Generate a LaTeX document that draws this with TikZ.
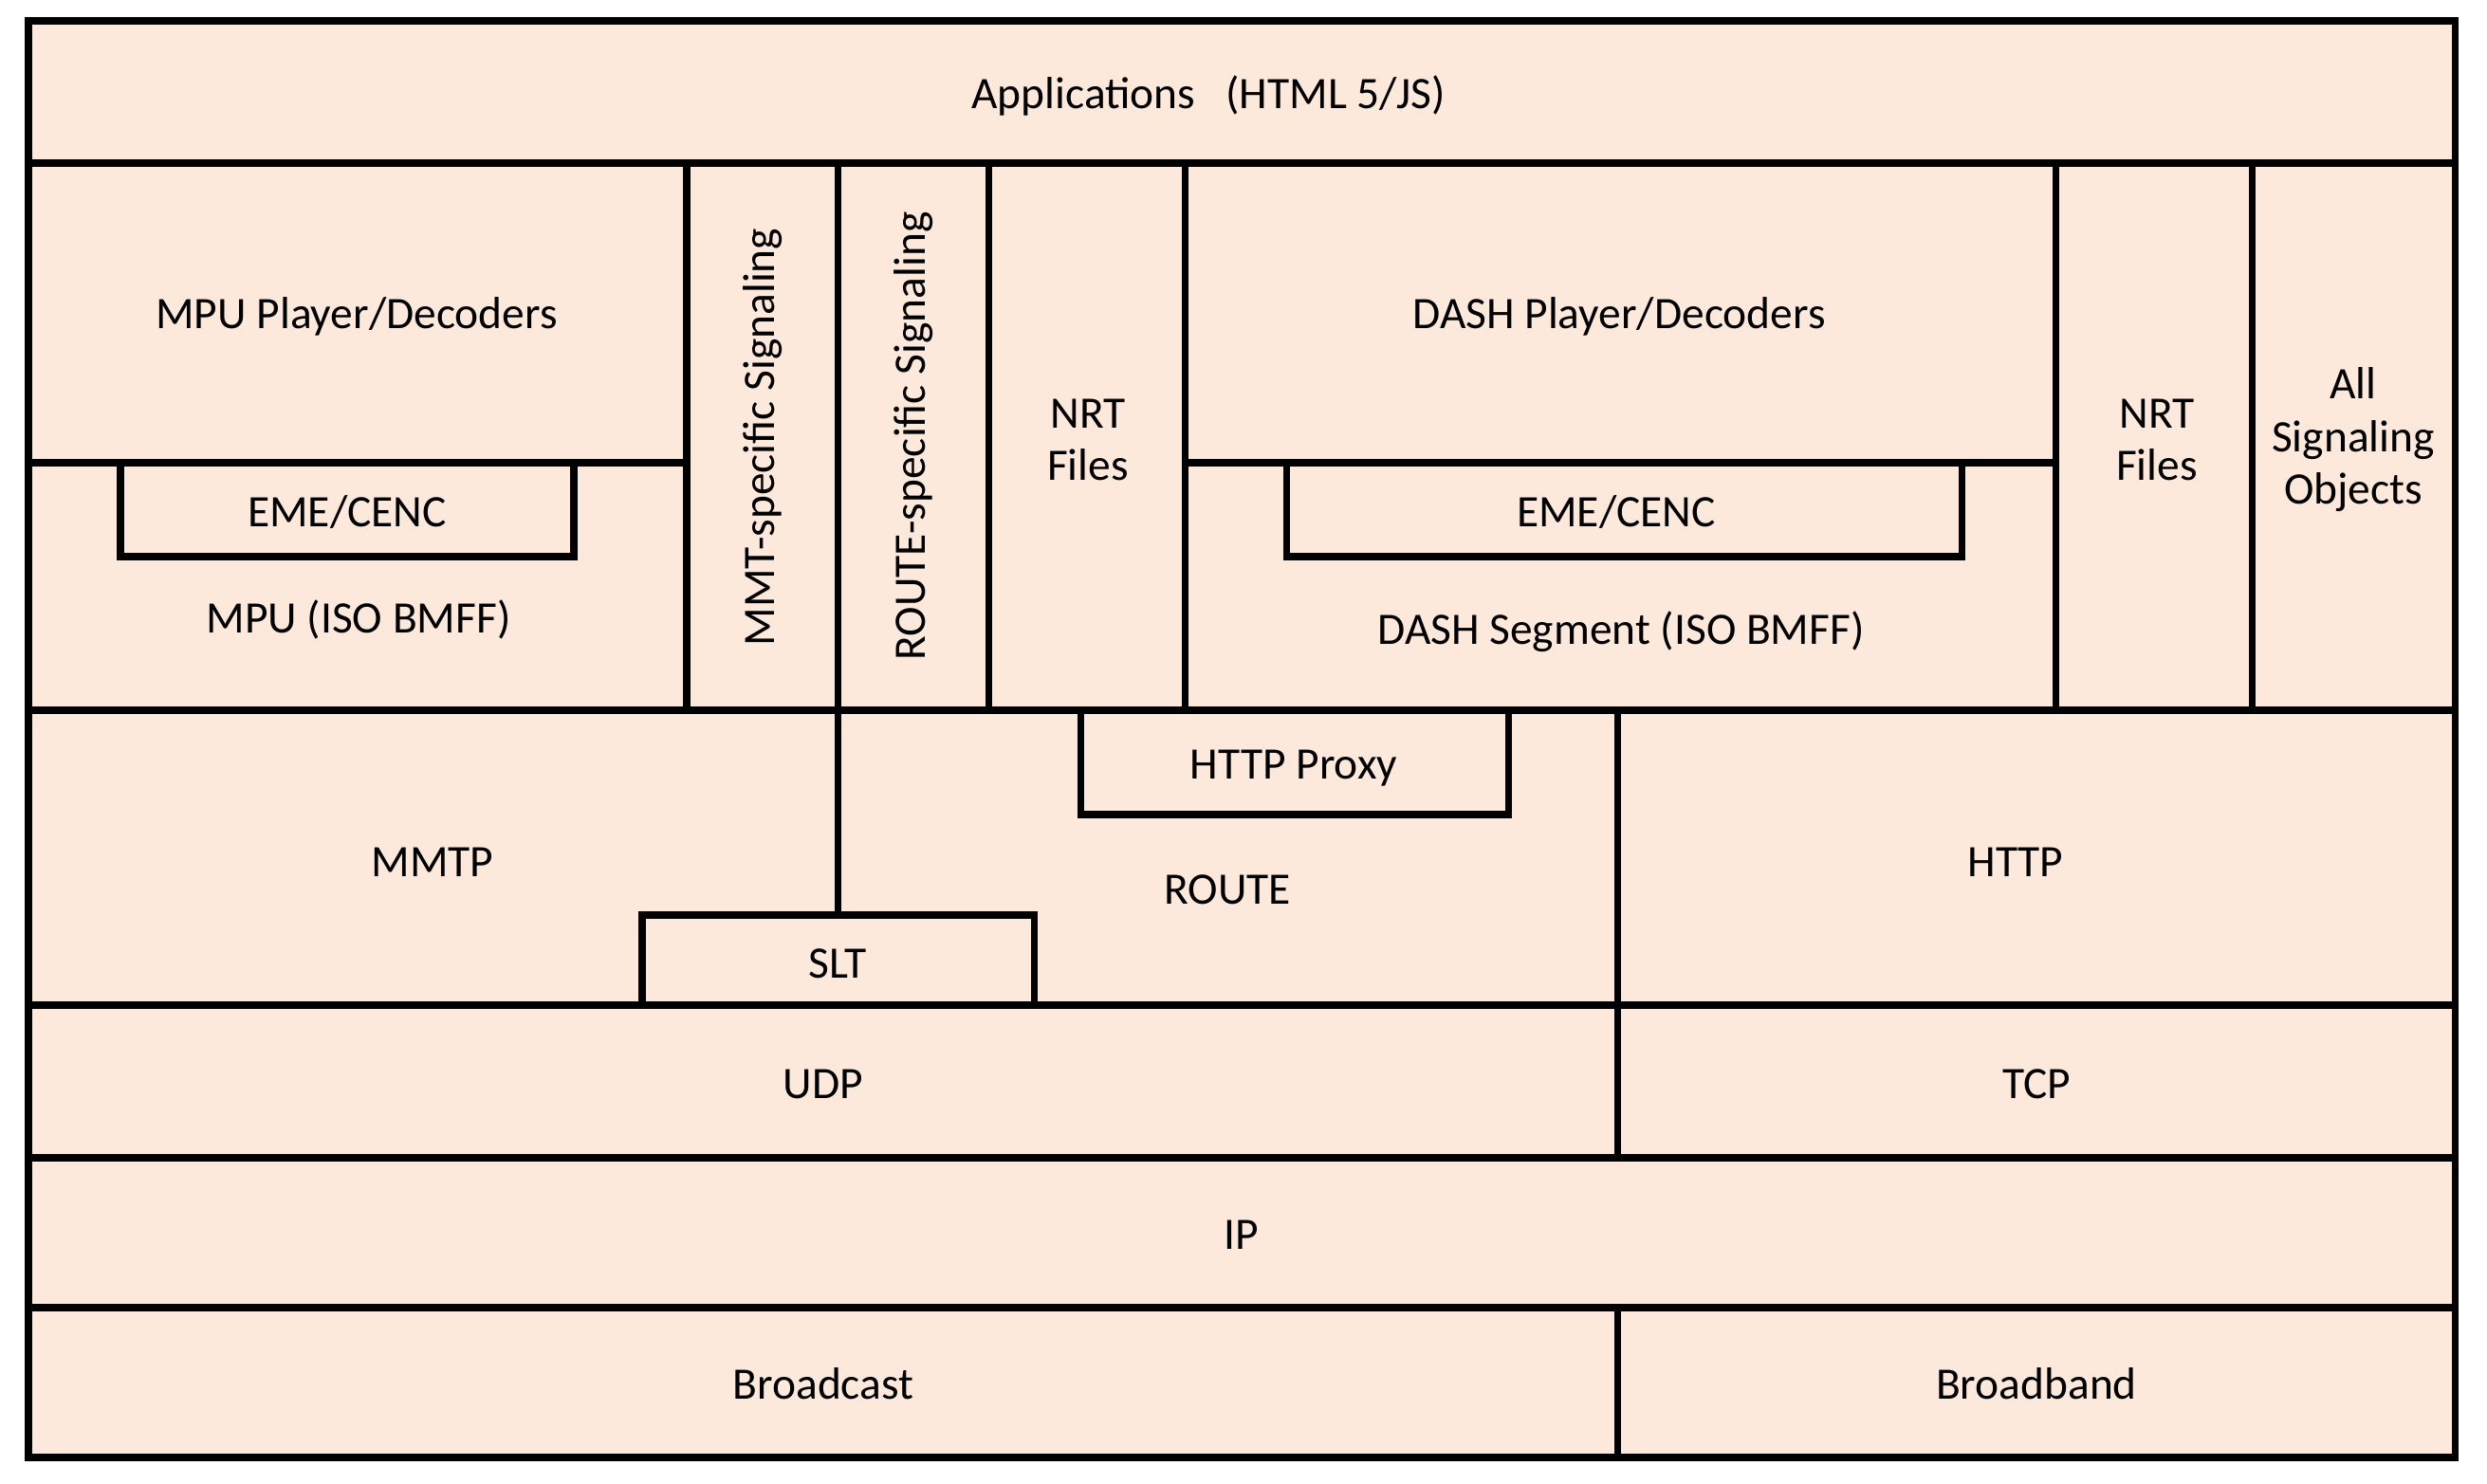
\documentclass[tikz,border=0pt]{standalone}
\usepackage{fontspec}
\setmainfont{Carlito}
\definecolor{peach}{HTML}{FCE9DC}

\begin{document}
\begin{tikzpicture}[
  lbl/.style={font=\fontsize{13.5}{15.8}\selectfont, align=center},
  wall/.style={line width=2pt, line cap=rect}]

\useasboundingbox (0,0) rectangle (26.22,15.64);

\path[fill=peach] (0.30,0.27) rectangle (25.88,15.42);

% layer borders
\draw [wall] (0.30,0.27) rectangle (25.88,15.42);
\draw [wall] (0.30,13.92) to (25.88,13.92);
\draw [wall] (0.30,8.15) to (25.88,8.15);
\draw [wall] (0.30,5.04) to (25.88,5.04);
\draw [wall] (0.30,3.43) to (25.88,3.43);
\draw [wall] (0.30,1.85) to (25.88,1.85);

% second row columns
\foreach \x in {7.24,8.83,10.42,12.49,21.67,23.74}
  \draw [wall] (\x,13.92) to (\x,8.15);
\draw [wall] (0.30,10.76) to (7.24,10.76);
\draw [wall] (12.49,10.76) to (21.67,10.76);
\draw [wall] (1.27,10.76) -- (1.27,9.77) -- (6.05,9.77) -- (6.05,10.76);
\draw [wall] (13.56,10.76) -- (13.56,9.77) -- (20.68,9.77) -- (20.68,10.76);

% transport rows
\draw [wall] (8.83,8.15) to (8.83,5.99);
\draw [wall] (6.77,5.04) -- (6.77,5.99) -- (10.90,5.99) -- (10.90,5.04);
\draw [wall] (11.39,8.15) -- (11.39,7.05) -- (15.90,7.05) -- (15.90,8.15);
\draw [wall] (17.05,8.15) to (17.05,3.43);
\draw [wall] (17.05,1.85) to (17.05,0.27);

\node [lbl] (app) at (12.74,14.63) {Applications \ \ (HTML 5/JS)};
\node [lbl] (mpuplayer) at (3.76,12.30) {MPU Player/Decoders};
\node [lbl] (emeleft) at (3.66,10.24) {EME/CENC};
\node [lbl] (mpu) at (3.78,9.11) {MPU (ISO BMFF)};
\node [lbl, rotate=90] (mmtsig) at (8.04,11.03) {MMT-specific Signaling};
\node [lbl, rotate=90] (routesig) at (9.63,11.04) {ROUTE-specific Signaling};
\node [lbl] (nrtleft) at (11.47,11.0) {NRT\\Files};
\node [lbl] (dashplayer) at (17.07,12.30) {DASH Player/Decoders};
\node [lbl] (emeright) at (17.04,10.24) {EME/CENC};
\node [lbl] (dashseg) at (17.09,8.98) {DASH Segment (ISO BMFF)};
\node [lbl] (nrtright) at (22.74,11.0) {NRT\\Files};
\node [lbl] (allsig) at (24.81,11.0) {All\\Signaling\\Objects};
\node [lbl] (proxy) at (13.64,7.54) {HTTP Proxy};
\node [lbl] (mmtp) at (4.56,6.55) {MMTP};
\node [lbl] (route) at (12.94,6.26) {ROUTE};
\node [lbl] (slt) at (8.83,5.48) {SLT};
\node [lbl] (http) at (21.25,6.55) {HTTP};
\node [lbl] (udp) at (8.68,4.21) {UDP};
\node [lbl] (tcp) at (21.47,4.21) {TCP};
\node [lbl] (ip) at (13.09,2.62) {IP};
\node [lbl] (broadcast) at (8.68,1.05) {Broadcast};
\node [lbl] (broadband) at (21.47,1.05) {Broadband};
\end{tikzpicture}
\end{document}
